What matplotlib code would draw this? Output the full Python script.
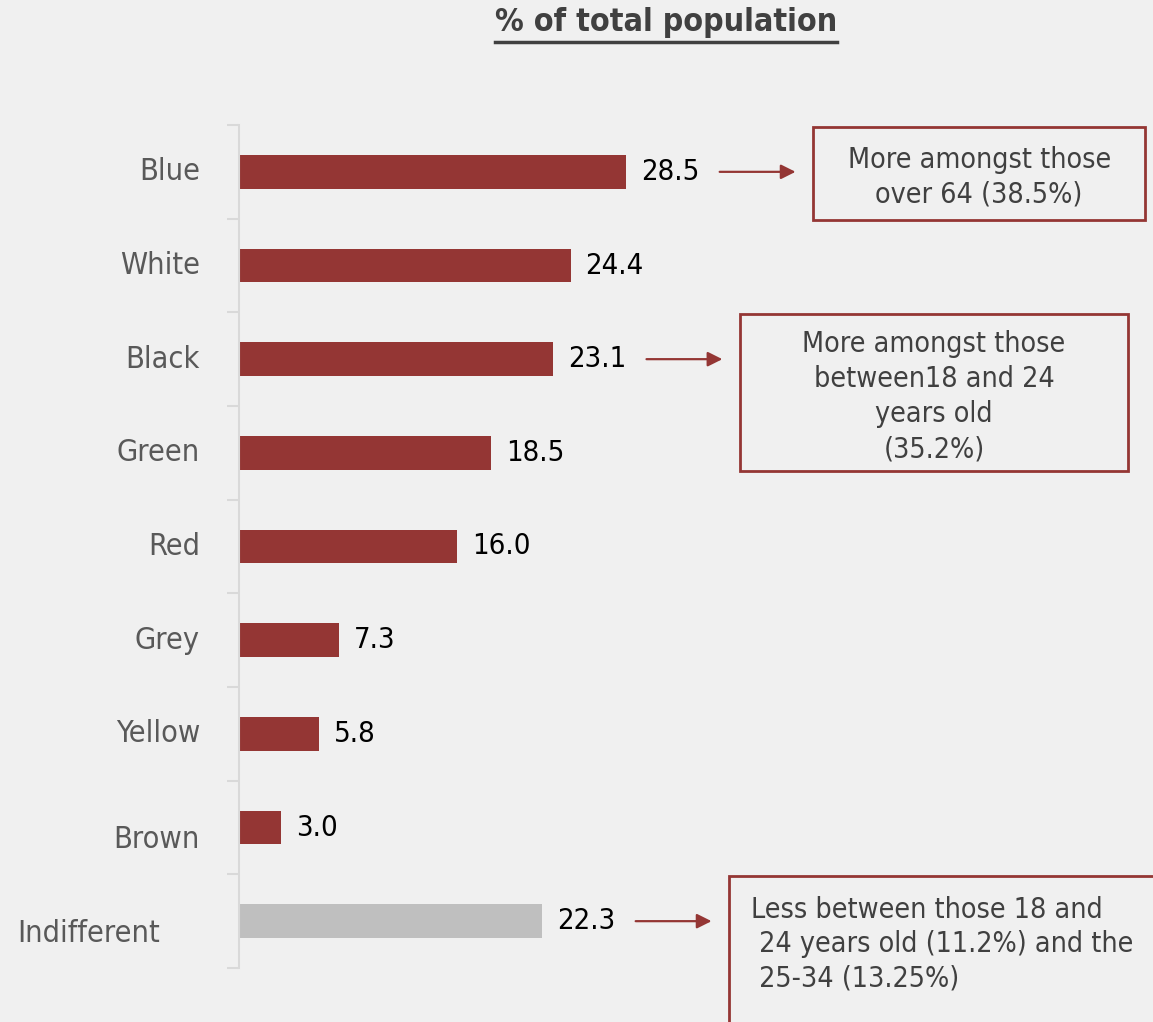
import matplotlib.pyplot as plt
from matplotlib.lines import Line2D
from matplotlib.patches import Rectangle
import matplotlib.transforms as mtransforms

# Colour preference, % of total population
categories = ['Blue', 'White', 'Black', 'Green', 'Red', 'Grey', 'Yellow', 'Brown', 'Indifferent']
values = [28.5, 24.4, 23.1, 18.5, 16.0, 7.3, 5.8, 3.0, 22.3]

# notes attached to some of the bars
notes = {
    'Blue': 'More amongst those\nover 64 (38.5%)',
    'Black': 'More amongst those\nbetween18 and 24\nyears old\n(35.2%)',
    'Indifferent': 'Less between those 18 and\n 24 years old (11.2%) and the\n 25-34 (13.25%)',
}

RED = '#943634'
GREY_BAR = '#bfbfbf'
BG = '#f0f0f0'
TXT = '#404040'
LAB = '#595959'

plt.rcParams['font.family'] = ['DejaVu Sans']
plt.rcParams['font.stretch'] = 'condensed'

W, H = 1153, 1022
fig = plt.figure(figsize=(W / 100, H / 100), dpi=100, facecolor=BG)
ax = fig.add_axes([240 / W, 1 - 968 / H, 542 / W, (968 - 125) / H], facecolor=BG)

y = list(range(len(categories)))
colors = [RED] * (len(categories) - 1) + [GREY_BAR]
ax.barh(y, values, height=0.36, color=colors, zorder=2)

ax.set_xlim(0, 40)
ax.set_ylim(len(categories) - 0.5, -0.5)

for s in ['top', 'right', 'bottom']:
    ax.spines[s].set_visible(False)
ax.spines['left'].set_color('#d9d9d9')
ax.spines['left'].set_linewidth(1.5)
ax.spines['left'].set_position(('outward', 1))
ax.set_xticks([])
ax.set_yticks([i - 0.5 for i in range(len(categories) + 1)])
ax.set_yticklabels([])
ax.tick_params(axis='y', length=9, width=1.5, color='#d9d9d9', direction='out')

# category labels, right aligned left of the axis
for i, name in enumerate(categories):
    dx, dy = -40, 0
    if name == 'Indifferent':
        dx, dy = -80, -12
    elif name == 'Brown':
        dy = -12
    off = mtransforms.offset_copy(ax.get_yaxis_transform(), fig=fig, x=dx, y=dy, units='dots')
    ax.text(0, i, name, transform=off, ha='right', va='center', fontsize=22, color=LAB)

# value labels
for i, v in enumerate(values):
    off = mtransforms.offset_copy(ax.transData, fig=fig, x=15, y=0, units='dots')
    ax.text(v, i, f'{v:.1f}', transform=off, ha='left', va='center', fontsize=21, color='black')

# arrows and note boxes (width, height in pixels; top sits 45 px above the arrow)
box_sizes = {'Blue': (332, 93), 'Black': (388, 157), 'Indifferent': (480, 170)}
for name, text in notes.items():
    i = categories.index(name)
    v = values[i]
    x0, x1 = v + 6.9, v + 12.5
    ax.annotate('', xy=(x1, i), xytext=(x0, i), xycoords='data',
                arrowprops=dict(arrowstyle='-|>', color=RED, lw=1.6, mutation_scale=22,
                                shrinkA=0, shrinkB=0), annotation_clip=False)
    bw, bh = box_sizes[name]
    px, py = ax.transData.transform((x1 + 1.3, i))
    left = px
    top = py + 45
    bottom = top - bh
    rect = Rectangle((left / W, bottom / H), bw / W, bh / H, transform=fig.transFigure,
                     facecolor='none', edgecolor=RED, lw=2, clip_on=False)
    fig.add_artist(rect)
    if name == 'Indifferent':
        fig.text((left + 22) / W, (py - 23) / H, text, ha='left', va='center',
                 fontsize=20.5, color=TXT, linespacing=1.3)
    else:
        fig.text((left + bw / 2) / W, (bottom + bh / 2 - 4) / H, text, ha='center', va='center',
                 fontsize=20.5, color=TXT, linespacing=1.32)

# underlined title
title = fig.text(666 / W, 1 - 23 / H, '% of total population', ha='center', va='center',
                 fontsize=23, fontweight='bold', color=TXT)
fig.canvas.draw()
bb = title.get_window_extent()
uy = bb.y0 - 4
fig.add_artist(Line2D([bb.x0 / W, bb.x1 / W], [uy / H, uy / H], color=TXT, lw=2.5,
                      transform=fig.transFigure))

fig.savefig('out.png', dpi=100, facecolor=BG)
